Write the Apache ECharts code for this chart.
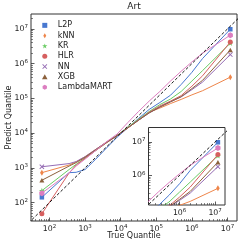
<!DOCTYPE html>
<html><head><meta charset="utf-8">
<script src="https://cdn.jsdelivr.net/npm/echarts@6/dist/echarts.min.js"></script>
<style>html,body{margin:0;padding:0;background:#fff}#c{width:246px;height:245px}</style>
</head><body><div id="c"></div><script>
// ---- data ----
const title = 'Art';
const trueQuantile = [61, 355, 560, 1000, 2000, 4000, 7900, 15800, 31600, 63000, 126000, 251000, 500000, 1000000, 2000000, 12000000];
const L2P        = [141, 724, 741, 891, 1780, 3720, 7590, 14100, 26300, 47900, 75900, 123000, 251000, 562000, 1410000, 9800000];
const kNN        = [724, 1200, 1480, 2090, 3390, 5500, 8510, 14100, 23400, 39800, 52500, 70800, 93300, 126000, 166000, 407000];
const KR         = [219, 891, 1260, 1910, 3160, 5250, 8510, 14800, 25100, 41700, 66100, 95500, 158000, 316000, 631000, 3900000];
const HLR        = [47.5, 708, 1200, 1860, 3160, 5250, 8320, 14100, 24000, 39800, 60300, 83200, 120000, 224000, 447000, 4200000];
const NN         = [1070, 1320, 1510, 2090, 3390, 5500, 8510, 14100, 23400, 38000, 56200, 79400, 110000, 178000, 295000, 1820000];
const XGB        = [437, 1120, 1410, 2000, 3310, 5370, 8510, 14100, 23400, 38000, 56200, 79400, 112000, 191000, 331000, 2480000];
const LambdaMART = [186, 708, 1120, 1780, 3160, 5620, 9330, 20000, 41700, 83200, 158000, 316000, 603000, 1120000, 2000000, 6600000];
const seriesNames = ['L2P', 'kNN', 'KR', 'HLR', 'NN', 'XGB', 'LambdaMART'];
const seriesValues = [L2P, kNN, KR, HLR, NN, XGB, LambdaMART];
const majorExponents = [2, 3, 4, 5, 6, 7];
const insetMajorExponents = [6, 7];
const xAxisName = 'True Quantile';
const yAxisName = 'Predict Quantile';

// ---- styling ----
const colors = ['#4878d0', '#ee854a', '#6acc64', '#d65f5f', '#956cb4', '#8c613c', '#dc7ec0'];
const symbols = [
  'path://M0,0L10,0L10,10L0,10Z',
  'path://M3,0L6,5L3,10L0,5Z',
  'path://M0,-10L2.25,-3.09L9.51,-3.09L3.64,1.18L5.88,8.09L0,3.82L-5.88,8.09L-3.64,1.18L-9.51,-3.09L-2.25,-3.09Z',
  'path://M10,5A5,5,0,1,1,0,5A5,5,0,1,1,10,5Z',
  'path://M0,1.3L1.3,0L5,3.7L8.7,0L10,1.3L6.3,5L10,8.7L8.7,10L5,6.3L1.3,10L0,8.7L3.7,5Z',
  'path://M5,0L10,9L0,9Z',
  'path://M5,0L9.33,2.5L9.33,7.5L5,10L0.67,7.5L0.67,2.5Z'
];
const symbolSizes = [4.5, 6, 6, 5, 5, 5, 6];
const FONT = 'DejaVu Sans';
const mainX = [30.2, 1.85e7], mainY = [29.3, 2.69e7];
const insX = [1.33e5, 1.9e7], insY = [1.29e5, 2.72e7];
const L = Math.log10;

function minorList() {
  const out = [];
  for (let n = 0; n <= 8; n++) for (let k = 2; k <= 9; k++) out.push(L(k) + n);
  return out;
}
const rich = {
  b: { fontSize: 7.8, fontFamily: FONT, color: '#222', lineHeight: 10 },
  s: { fontSize: 5.5, fontFamily: FONT, color: '#222', lineHeight: 10, verticalAlign: 'top', padding: [0, 0, 4, 0] }
};
const fmt = v => '{b|10}{s|' + Math.round(v) + '}';

function logAxis(grid, range, isX) {
  return { type: 'log', gridIndex: grid, min: range[0], max: range[1], logBase: 10, position: isX ? 'bottom' : 'left',
    axisLine: { show: false }, axisTick: { show: false }, axisLabel: { show: false }, splitLine: { show: false } };
}
function majorAxis(grid, range, exps, isX, z, name) {
  const a = { type: 'value', gridIndex: grid, min: L(range[0]), max: L(range[1]), z: z, position: isX ? 'bottom' : 'left', offset: 0,
    axisLine: { show: false }, splitLine: { show: false },
    axisTick: { show: true, inside: true, length: 3.5, customValues: exps, lineStyle: { color: '#333', width: 0.8 } },
    axisLabel: { show: true, customValues: exps, formatter: fmt, rich: rich, margin: 3 } };
  if (name) {
    a.name = name; a.nameLocation = 'middle'; a.nameMoveOverlap = false;
    a.nameTextStyle = { fontSize: 8, fontFamily: FONT, color: '#222' };
    a.nameGap = isX ? 11 : 18;
  }
  return a;
}
function minorAxis(grid, range, isX, z) {
  return { type: 'value', gridIndex: grid, min: L(range[0]), max: L(range[1]), z: z, position: isX ? 'bottom' : 'left', offset: 0,
    axisLine: { show: false }, splitLine: { show: false }, axisLabel: { show: false },
    axisTick: { show: true, inside: true, length: 2, customValues: minorList(), lineStyle: { color: '#333', width: 0.6 } } };
}

const series = [];
[0, 1].forEach(g => {
  seriesNames.forEach((nm, si) => {
    const vals = seriesValues[si];
    const last = vals.length - 1;
    series.push({
      type: 'line', name: nm, xAxisIndex: g === 0 ? 0 : 3, yAxisIndex: g === 0 ? 0 : 3,
      z: g === 0 ? 2 : 12, color: colors[si], symbolKeepAspect: true,
      symbolSize: symbolSizes[si], animation: false, clip: true, showSymbol: true,
      lineStyle: { width: 1, color: colors[si] },
      itemStyle: { color: colors[si], borderWidth: 0 },
      data: trueQuantile.map((x, i) => ({ value: [x, vals[i]], symbol: (i === 0 || i === last) ? symbols[si] : 'none' }))
    });
  });
  series.push({
    type: 'line', name: 'diag', xAxisIndex: g === 0 ? 0 : 3, yAxisIndex: g === 0 ? 0 : 3,
    z: g === 0 ? 3 : 13, symbol: 'none', animation: false, clip: true,
    lineStyle: { color: '#000', width: 0.9, type: [3, 2] },
    data: [[1, 1], [1e9, 1e9]]
  });
});

const chart = echarts.init(document.getElementById('c'), null, { renderer: 'canvas' });
chart.setOption({
  animation: false,
  backgroundColor: '#fff',
  title: { text: title, left: 134, top: 2, padding: 0, textAlign: 'center',
    textStyle: { fontSize: 9, fontWeight: 'normal', fontFamily: FONT, color: '#222' } },
  legend: {
    orient: 'vertical', left: 42, top: 20.2, padding: 0, itemWidth: 16, itemHeight: 5, itemGap: 0,
    textStyle: { fontSize: 8, fontFamily: FONT, color: '#222', lineHeight: 10.3 },
    data: seriesNames.map((n, i) => ({ name: n, icon: symbols[i] })),
    z: 20
  },
  grid: [
    { left: 31, top: 14, width: 206, height: 207, show: true, borderColor: '#333', borderWidth: 1, backgroundColor: 'transparent', outerBoundsMode: 'none', z: 0 },
    { left: 148.5, top: 127.5, width: 76.5, height: 77.5, show: true, borderColor: '#333', borderWidth: 1, backgroundColor: '#fff', outerBoundsMode: 'none', z: 10 }
  ],
  xAxis: [
    logAxis(0, mainX, true), majorAxis(0, mainX, majorExponents, true, 4, xAxisName), minorAxis(0, mainX, true, 4),
    logAxis(1, insX, true), majorAxis(1, insX, insetMajorExponents, true, 14), minorAxis(1, insX, true, 14)
  ],
  yAxis: [
    logAxis(0, mainY, false), majorAxis(0, mainY, majorExponents, false, 4, yAxisName), minorAxis(0, mainY, false, 4),
    logAxis(1, insY, false), majorAxis(1, insY, insetMajorExponents, false, 14), minorAxis(1, insY, false, 14)
  ],
  series: series
});
</script></body></html>
